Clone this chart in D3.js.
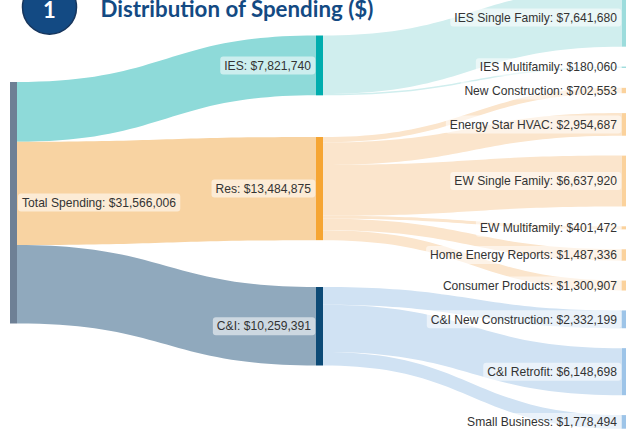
<!DOCTYPE html>
<html><head><meta charset="utf-8">
<script src="https://cdn.jsdelivr.net/npm/d3@7"></script>
<style>html,body{margin:0;padding:0;background:#fff;overflow:hidden}svg{display:block}</style>
</head><body><div id="c"></div>
<script>
// ---- data ----
const rootName = "Total Spending";
const rootValue = 31566006;
const sectors = ["IES", "Res", "C&I"];
const sectorValues = [7821740, 13484875, 10259391];
const programs = ["IES Single Family","IES Multifamily","New Construction","Energy Star HVAC","EW Single Family","EW Multifamily","Home Energy Reports","Consumer Products","C&I New Construction","C&I Retrofit","Small Business"];
const programValues = [7641680,180060,702553,2954687,6637920,401472,1487336,1300907,2332199,6148698,1778494];
const programSector = [0,0,1,1,1,1,1,1,2,2,2];
const titleText = "Distribution of Spending ($)";
const badgeText = "1";

// ---- layout and style ----
const W = 626, H = 430, nodeW = 7;
const xs = [10, 316, 622];
const rootTop = 82, sectorTops = [35.5, 137, 287], programTop = -11.8, programGap = 19.9;
const sectorColors = ["#00adae", "#f6a532", "#0c4a76"];
const rootColor = "#6e8095";
const rootLinkColors = ["#8edad9", "#f8d3a2", "#90a9bd"];
const progLinkColors = ["#d0eeee", "#fbe5cc", "#d0e2f3"];
const progNodeColors = ["#9cdcdc", "#fbd29c", "#9dc4e8"];

const h = d3.scaleLinear().domain([0, rootValue]).range([0, 241.5]);
function ribbon(x0, x1, y0, y1, t) {
  const path = d3.path(), mx = (x0 + x1) / 2;
  path.moveTo(x0, y0);
  path.bezierCurveTo(mx, y0, mx, y1, x1, y1);
  path.lineTo(x1, y1 + t);
  path.bezierCurveTo(mx, y1 + t, mx, y0 + t, x0, y0 + t);
  path.closePath();
  return path.toString();
}
const svg = d3.select("#c").append("svg").attr("width", W).attr("height", H)
  .style("font-family", "'Liberation Sans', Arial, sans-serif");
const gLinks = svg.append("g"), gNodes = svg.append("g"), gLabels = svg.append("g");

// program stacking
let cursor = programTop;
const progPos = programValues.map(v => { const y = cursor; cursor += h(v) + programGap; return y; });

// root -> sector
let offs = rootTop;
sectors.forEach((s, i) => {
  const t = h(sectorValues[i]);
  gLinks.append("path").attr("d", ribbon(xs[0] + nodeW, xs[1], offs, sectorTops[i], t)).attr("fill", rootLinkColors[i]);
  offs += t;
});
// sector -> program
const outOff = sectorTops.slice();
programs.forEach((p, i) => {
  const s = programSector[i], t = h(programValues[i]);
  gLinks.append("path").attr("d", ribbon(xs[1] + nodeW, xs[2], outOff[s], progPos[i], t)).attr("fill", progLinkColors[s]);
  outOff[s] += t;
});
// nodes
gNodes.append("rect").attr("x", xs[0]).attr("y", rootTop).attr("width", nodeW).attr("height", h(rootValue)).attr("fill", rootColor);
sectors.forEach((s, i) => gNodes.append("rect").attr("x", xs[1]).attr("y", sectorTops[i]).attr("width", nodeW).attr("height", h(sectorValues[i])).attr("fill", sectorColors[i]));
programs.forEach((p, i) => gNodes.append("rect").attr("x", xs[2]).attr("y", progPos[i]).attr("width", nodeW).attr("height", Math.max(1, h(programValues[i]))).attr("fill", progNodeColors[programSector[i]]));

// labels
const fmt = d3.format("$,");
function label(txt, x, y, anchor) {
  const g = gLabels.append("g");
  const r = g.append("rect");
  const tx = g.append("text").attr("x", x).attr("y", y).attr("dy", "0.35em").attr("text-anchor", anchor)
    .attr("font-size", 12.1).attr("fill", "#333").text(txt);
  const b = tx.node().getBBox();
  r.attr("x", b.x - 4).attr("y", y - 9).attr("width", b.width + 8).attr("height", 18).attr("rx", 3)
    .attr("fill", "#fff").attr("fill-opacity", 0.55);
}
label(`${rootName}: ${fmt(rootValue)}`, 22, 202.5, "start");
sectors.forEach((s, i) => label(`${s}: ${fmt(sectorValues[i])}`, xs[1] - 5, sectorTops[i] + h(sectorValues[i]) / 2, "end"));
programs.forEach((p, i) => label(`${p}: ${fmt(programValues[i])}`, xs[2] - 5, Math.max(17.5, progPos[i] + h(programValues[i]) / 2), "end"));

// header
svg.append("circle").attr("cx", 49.5).attr("cy", 7.2).attr("r", 27).attr("fill", "#134a83").attr("stroke", "#17365d").attr("stroke-width", 1.5);
svg.append("text").attr("x", 49.5).attr("y", 17.5).attr("text-anchor", "middle").attr("font-family", "Lato, sans-serif").attr("font-weight", 700).attr("font-size", 22).attr("fill", "#fff").text(badgeText);
svg.append("text").attr("x", 100.5).attr("y", 17).attr("font-family", "Lato, sans-serif").attr("font-weight", 700).attr("font-size", 22.3).attr("fill", "#134a83").text(titleText);
</script></body></html>
